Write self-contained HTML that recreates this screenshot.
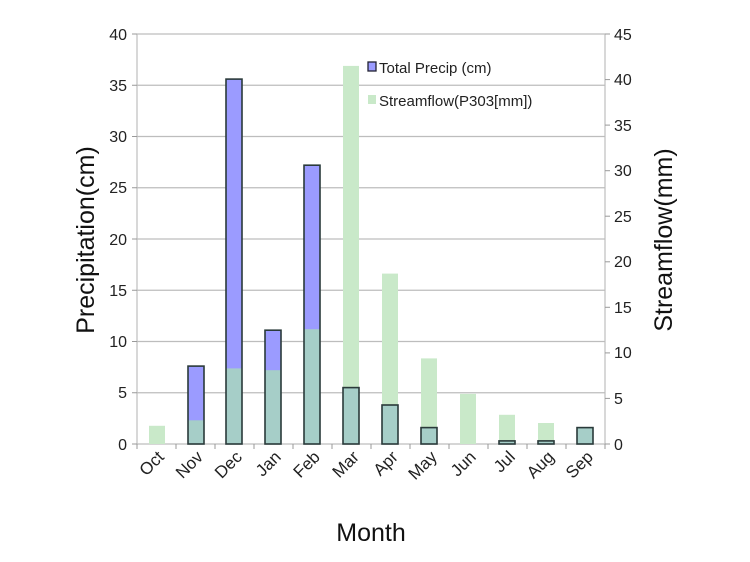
<!DOCTYPE html>
<html><head><meta charset="utf-8"><style>
html,body{margin:0;padding:0;background:#fff;}
svg{display:block;font-family:"Liberation Sans",sans-serif;}
</style></head><body>
<svg width="750" height="562" viewBox="0 0 750 562">
<g stroke="#bdbdbd" stroke-width="1.2">
<line x1="137" y1="34" x2="605" y2="34"/>
<line x1="137" y1="85.25" x2="605" y2="85.25"/>
<line x1="137" y1="136.5" x2="605" y2="136.5"/>
<line x1="137" y1="187.75" x2="605" y2="187.75"/>
<line x1="137" y1="239" x2="605" y2="239"/>
<line x1="137" y1="290.25" x2="605" y2="290.25"/>
<line x1="137" y1="341.5" x2="605" y2="341.5"/>
<line x1="137" y1="392.75" x2="605" y2="392.75"/>
<line x1="137" y1="444" x2="605" y2="444"/>
<line x1="137" y1="34" x2="137" y2="444"/>
<line x1="605" y1="34" x2="605" y2="444"/>
</g>
<g stroke="#999" stroke-width="1">
<line x1="132" y1="34" x2="137" y2="34"/><line x1="132" y1="85.25" x2="137" y2="85.25"/><line x1="132" y1="136.5" x2="137" y2="136.5"/><line x1="132" y1="187.75" x2="137" y2="187.75"/><line x1="132" y1="239" x2="137" y2="239"/><line x1="132" y1="290.25" x2="137" y2="290.25"/><line x1="132" y1="341.5" x2="137" y2="341.5"/><line x1="132" y1="392.75" x2="137" y2="392.75"/><line x1="132" y1="444" x2="137" y2="444"/>
<line x1="605" y1="34" x2="610" y2="34"/><line x1="605" y1="79.6" x2="610" y2="79.6"/><line x1="605" y1="125.1" x2="610" y2="125.1"/><line x1="605" y1="170.7" x2="610" y2="170.7"/><line x1="605" y1="216.2" x2="610" y2="216.2"/><line x1="605" y1="261.8" x2="610" y2="261.8"/><line x1="605" y1="307.3" x2="610" y2="307.3"/><line x1="605" y1="352.9" x2="610" y2="352.9"/><line x1="605" y1="398.4" x2="610" y2="398.4"/><line x1="605" y1="444" x2="610" y2="444"/>
<line x1="137" y1="444" x2="137" y2="449"/><line x1="176" y1="444" x2="176" y2="449"/><line x1="215" y1="444" x2="215" y2="449"/><line x1="254" y1="444" x2="254" y2="449"/><line x1="293" y1="444" x2="293" y2="449"/><line x1="332" y1="444" x2="332" y2="449"/><line x1="371" y1="444" x2="371" y2="449"/><line x1="410" y1="444" x2="410" y2="449"/><line x1="449" y1="444" x2="449" y2="449"/><line x1="488" y1="444" x2="488" y2="449"/><line x1="527" y1="444" x2="527" y2="449"/><line x1="566" y1="444" x2="566" y2="449"/><line x1="605" y1="444" x2="605" y2="449"/>
</g>
<g fill="#c9e9c9">
<rect x="149" y="425.8" width="16" height="18.2"/>
<rect x="188" y="420.3" width="16" height="23.7"/>
<rect x="226" y="368.4" width="16" height="75.6"/>
<rect x="265" y="370.2" width="16" height="73.8"/>
<rect x="304" y="329.2" width="16" height="114.8"/>
<rect x="343" y="65.9" width="16" height="378.1"/>
<rect x="382" y="273.6" width="16" height="170.4"/>
<rect x="421" y="358.4" width="16" height="85.6"/>
<rect x="460" y="393.9" width="16" height="50.1"/>
<rect x="499" y="414.8" width="16" height="29.2"/>
<rect x="538" y="423" width="16" height="21"/>
</g>
<g fill="#9b9bff">
<rect x="188" y="366.1" width="16" height="77.9"/>
<rect x="226" y="79.1" width="16" height="364.9"/>
<rect x="265" y="330.2" width="16" height="113.8"/>
<rect x="304" y="165.2" width="16" height="278.8"/>
</g>
<g fill="#a6cec8">
<rect x="188" y="420.3" width="16" height="23.7"/>
<rect x="226" y="368.4" width="16" height="75.6"/>
<rect x="265" y="370.2" width="16" height="73.8"/>
<rect x="304" y="329.2" width="16" height="114.8"/>
<rect x="343" y="387.6" width="16" height="56.4"/>
<rect x="382" y="405" width="16" height="39"/>
<rect x="421" y="427.6" width="16" height="16.4"/>
<rect x="499" y="440.9" width="16" height="3.1"/>
<rect x="538" y="440.9" width="16" height="3.1"/>
<rect x="577" y="427.6" width="16" height="16.4"/>
</g>
<g fill="none" stroke="#2a3a3a" stroke-width="1.6">
<rect x="188" y="366.1" width="16" height="77.9"/>
<rect x="226" y="79.1" width="16" height="364.9"/>
<rect x="265" y="330.2" width="16" height="113.8"/>
<rect x="304" y="165.2" width="16" height="278.8"/>
<rect x="343" y="387.6" width="16" height="56.4"/>
<rect x="382" y="405" width="16" height="39"/>
<rect x="421" y="427.6" width="16" height="16.4"/>
<rect x="499" y="440.9" width="16" height="3.1"/>
<rect x="538" y="440.9" width="16" height="3.1"/>
<rect x="577" y="427.6" width="16" height="16.4"/>
</g>
<g font-size="16" fill="#222" text-anchor="end">
<text x="127" y="40">40</text><text x="127" y="91">35</text><text x="127" y="142">30</text><text x="127" y="193">25</text><text x="127" y="245">20</text><text x="127" y="296">15</text><text x="127" y="347">10</text><text x="127" y="398">5</text><text x="127" y="450">0</text>
</g>
<g font-size="16" fill="#222" text-anchor="start">
<text x="614" y="40">45</text><text x="614" y="85">40</text><text x="614" y="131">35</text><text x="614" y="176">30</text><text x="614" y="222">25</text><text x="614" y="267">20</text><text x="614" y="313">15</text><text x="614" y="358">10</text><text x="614" y="404">5</text><text x="614" y="450">0</text>
</g>
<g font-size="17" fill="#222" text-anchor="end">
<text transform="translate(165,458) rotate(-45)">Oct</text>
<text transform="translate(204,458) rotate(-45)">Nov</text>
<text transform="translate(243,458) rotate(-45)">Dec</text>
<text transform="translate(282,458) rotate(-45)">Jan</text>
<text transform="translate(321,458) rotate(-45)">Feb</text>
<text transform="translate(360,458) rotate(-45)">Mar</text>
<text transform="translate(399,458) rotate(-45)">Apr</text>
<text transform="translate(438,458) rotate(-45)">May</text>
<text transform="translate(477,458) rotate(-45)">Jun</text>
<text transform="translate(516,458) rotate(-45)">Jul</text>
<text transform="translate(555,458) rotate(-45)">Aug</text>
<text transform="translate(594,458) rotate(-45)">Sep</text>
</g>
<text x="371" y="541" font-size="25" fill="#111" text-anchor="middle">Month</text>
<text transform="translate(94,240) rotate(-90)" font-size="25" fill="#111" text-anchor="middle">Precipitation(cm)</text>
<text transform="translate(672,240) rotate(-90)" font-size="25" fill="#111" text-anchor="middle">Streamflow(mm)</text>
<rect x="368" y="62" width="8" height="9" fill="#9b9bff" stroke="#223" stroke-width="1.3"/>
<text x="379" y="73" font-size="15" fill="#222">Total Precip (cm)</text>
<rect x="368" y="95" width="8" height="9" fill="#c9e9c9"/>
<text x="379" y="106" font-size="15" fill="#222">Streamflow(P303[mm])</text>
</svg>
</body></html>
